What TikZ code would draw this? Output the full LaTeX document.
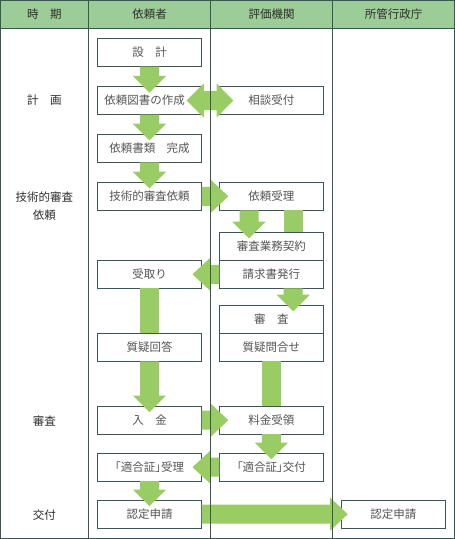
\documentclass[tikz,border=0pt]{standalone}
\usepackage{fontspec}
\setmainfont{Noto Sans CJK JP}
\newfontfamily\jpp[RawFeature=+palt]{Noto Sans CJK JP}
\usetikzlibrary{calc}
\definecolor{hdr}{HTML}{9CCC97}
\definecolor{agreen}{HTML}{9ACC66}
\definecolor{bord}{HTML}{3B5656}
\definecolor{boxtxt}{HTML}{555555}
\definecolor{lbltxt}{HTML}{2E2E2E}
% down arrow: [x offset]{from}{to}
\newcommand\arrD[3][0pt]{\fill[agreen] let \p1=($(#2.south)+(#1,0)$), \p2=($(#3.north)+(#1,0)$) in
  (\x1-9.5pt,\y1) -- (\x1+9.5pt,\y1) -- (\x1+9.5pt,\y2+10.7pt) -- (\x1+16.7pt,\y2+10.7pt) -- (\x1,\y2-6pt)
  -- (\x1-16.7pt,\y2+10.7pt) -- (\x1-9.5pt,\y2+10.7pt) -- cycle;}
% plain bar
\newcommand\barD[3][0pt]{\fill[agreen] let \p1=($(#2.south)+(#1,0)$), \p2=($(#3.north)+(#1,0)$) in
  (\x1-9.5pt,\y1) rectangle (\x1+9.5pt,\y2);}
% right arrow: [overlap]{from}{to}
\newcommand\arrR[3][9pt]{\fill[agreen] let \p1=(#2.east), \p2=(#3.west) in
  (\x1,\y1+9.5pt) -- (\x2+#1-17.7pt,\y1+9.5pt) -- (\x2+#1-17.7pt,\y1+16.7pt) -- (\x2+#1,\y1)
  -- (\x2+#1-17.7pt,\y1-16.7pt) -- (\x2+#1-17.7pt,\y1-9.5pt) -- (\x1,\y1-9.5pt) -- cycle;}
% left arrow
\newcommand\arrL[3][9pt]{\fill[agreen] let \p1=(#2.west), \p2=(#3.east) in
  (\x1,\y1+9.5pt) -- (\x2-#1+18pt,\y1+9.5pt) -- (\x2-#1+18pt,\y1+16.7pt) -- (\x2-#1,\y1)
  -- (\x2-#1+18pt,\y1-16.7pt) -- (\x2-#1+18pt,\y1-9.5pt) -- (\x1,\y1-9.5pt) -- cycle;}
% double arrow
\newcommand\arrLR[2]{\fill[agreen] let \p1=($(#1.east)+(-15pt,0)$), \p2=($(#2.west)+(14pt,0)$) in
  (\x1,\y1) -- (\x1+17.3pt,\y1+17pt) -- (\x1+17.3pt,\y1+9.5pt) -- (\x2-16.7pt,\y1+9.5pt) -- (\x2-16.7pt,\y1+17pt)
  -- (\x2,\y1) -- (\x2-16.7pt,\y1-17pt) -- (\x2-16.7pt,\y1-9.5pt) -- (\x1+17.3pt,\y1-9.5pt) -- (\x1+17.3pt,\y1-17pt) -- cycle;}
\tikzset{
  box/.style={draw=bord, line width=1pt, fill=white, minimum width=104pt, minimum height=28pt,
    inner sep=0pt, outer sep=0pt, text=boxtxt, font=\fontsize{11.5}{14}\selectfont},
  lbl/.style={text=lbltxt, inner sep=0pt, font=\fontsize{11.5}{18.3}\selectfont, align=center},
  grid/.style={draw=bord, line width=1pt}
}
\begin{document}
\begin{tikzpicture}[x=1pt,y=1pt]
\useasboundingbox (0,0) rectangle (455,-539);
\fill[hdr] (0,0) rectangle (455,-28.3);
% requester column
\node[box] (s1) at (149.5,-52.5) {設　計};
\node[box] (s2) at (149.5,-100.5) {\hspace*{-10pt}依頼図書の作成};
\node[box] (s3) at (149.5,-148.3) {依頼書類　完成};
\node[box] (s4) at (149.5,-196.3) {技術的審査依頼};
\node[box] (s5) at (149.5,-274.3) {受取り};
\node[box] (s6) at (149.5,-347.3) {質疑回答};
\node[box] (s7) at (149.5,-420.2) {入　金};
\node[box] (s8) at (149.5,-467.2) {{\jpp 「適合証」}受理};
\node[box] (s9) at (149.5,-514.2) {認定申請};
% evaluation agency column
\node[box] (e1) at (271.3,-100.5) {相談受付};
\node[box] (e2) at (271.3,-196.3) {依頼受理};
\node[box] (e3) at (271.3,-246.3) {審査業務契約};
\node[box] (e4) at (271.3,-274.3) {請求書発行};
\node[box] (e5) at (271.3,-319.3) {審　査};
\node[box] (e6) at (271.3,-347.3) {質疑問合せ};
\node[box] (e7) at (271.3,-420.2) {料金受領};
\node[box] (e8) at (271.3,-467.2) {{\jpp 「適合証」}交付};
% administrative agency column
\node[box] (g1) at (393.3,-514.2) {認定申請};
% arrows
\arrD{s1}{s2}
\arrLR{s2}{e1}
\arrD{s2}{s3}
\arrD{s3}{s4}
\arrR{s4}{e2}
\arrD[-22.3pt]{e2}{e3}
\barD[21.9pt]{e2}{e3}
\arrD[21.9pt]{e4}{e5}
\arrL{e4}{s5}
\barD{s5}{s6}
\arrD{s6}{s7}
\barD{e6}{e7}
\arrR{s7}{e7}
\arrD{e7}{e8}
\arrL{e8}{s8}
\arrD{s8}{s9}
\arrR[6.4pt]{s9}{g1}
% grid
\draw[grid] (0,-28.3) -- (455,-28.3);
\draw[grid] (88.5,0) -- (88.5,-539);
\draw[grid] (210.5,0) -- (210.5,-539);
\draw[grid] (332.5,0) -- (332.5,-539);
\draw[grid, line width=1.3pt] (0.65,-0.65) rectangle (454.35,-538.35);
% header labels
\node[lbl] (h1) at (44.3,-14.6) {時　期};
\node[lbl] (h2) at (149.5,-14.6) {依頼者};
\node[lbl] (h3) at (271.5,-14.6) {評価機関};
\node[lbl] (h4) at (393.5,-14.6) {所管行政庁};
% period labels
\node[lbl] (p1) at (44.3,-100.5) {計　画};
\node[lbl] (p2) at (44.3,-205.8) {技術的審査\\依頼};
\node[lbl] (p3) at (44.3,-421) {審査};
\node[lbl] (p4) at (44.3,-515) {交付};
\end{tikzpicture}
\end{document}
